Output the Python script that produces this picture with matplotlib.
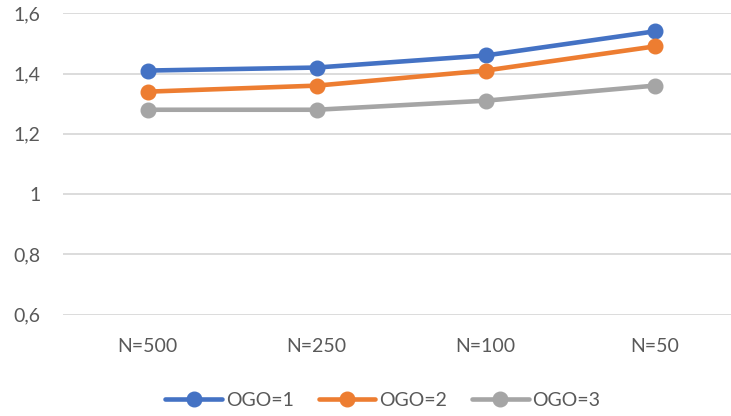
import matplotlib.pyplot as plt
from matplotlib.ticker import FuncFormatter

categories = ["N=500", "N=250", "N=100", "N=50"]
ogo1 = [1.41, 1.42, 1.46, 1.54]
ogo2 = [1.34, 1.36, 1.41, 1.49]
ogo3 = [1.28, 1.28, 1.31, 1.36]
series_labels = ["OGO=1", "OGO=2", "OGO=3"]
colors = ["#4472C4", "#ED7D31", "#A5A5A5"]

plt.rcParams["font.family"] = ["Lato", "DejaVu Sans"]

W, H = 731, 416
fig = plt.figure(figsize=(W / 100, H / 100), dpi=100)
# plot area runs past the right edge, as in the cropped chart
ax = fig.add_axes([63 / W, (H - 314.7) / H, 676 / W, 301.4 / H])

x = range(len(categories))
for vals, lab, c in zip([ogo1, ogo2, ogo3], series_labels, colors):
    ax.plot(x, vals, color=c, lw=3.3, marker="o", ms=10.5, label=lab,
            solid_capstyle="round", zorder=3)

ax.set_xlim(-0.5, len(categories) - 0.5)
ax.set_ylim(0.6, 1.6)
ax.set_yticks([0.6, 0.8, 1.0, 1.2, 1.4, 1.6])
ax.yaxis.set_major_formatter(FuncFormatter(
    lambda v, p: f"{v:g}".replace(".", ",")))
ax.set_xticks(list(x))
ax.set_xticklabels(categories)

ax.grid(axis="y", color="#D9D9D9", lw=1.3)
ax.set_axisbelow(True)
for s in ax.spines.values():
    s.set_visible(False)
ax.tick_params(axis="both", length=0, labelsize=14, labelcolor="#595959")
ax.tick_params(axis="y", pad=16)
ax.tick_params(axis="x", pad=17)

fig.legend(loc="center", bbox_to_anchor=(383 / W, 1 - 400 / H), ncol=3,
           frameon=False, fontsize=14, labelcolor="#595959",
           handlelength=2.9, handletextpad=0.2, columnspacing=1.3)

fig.savefig("out.png", dpi=100)
